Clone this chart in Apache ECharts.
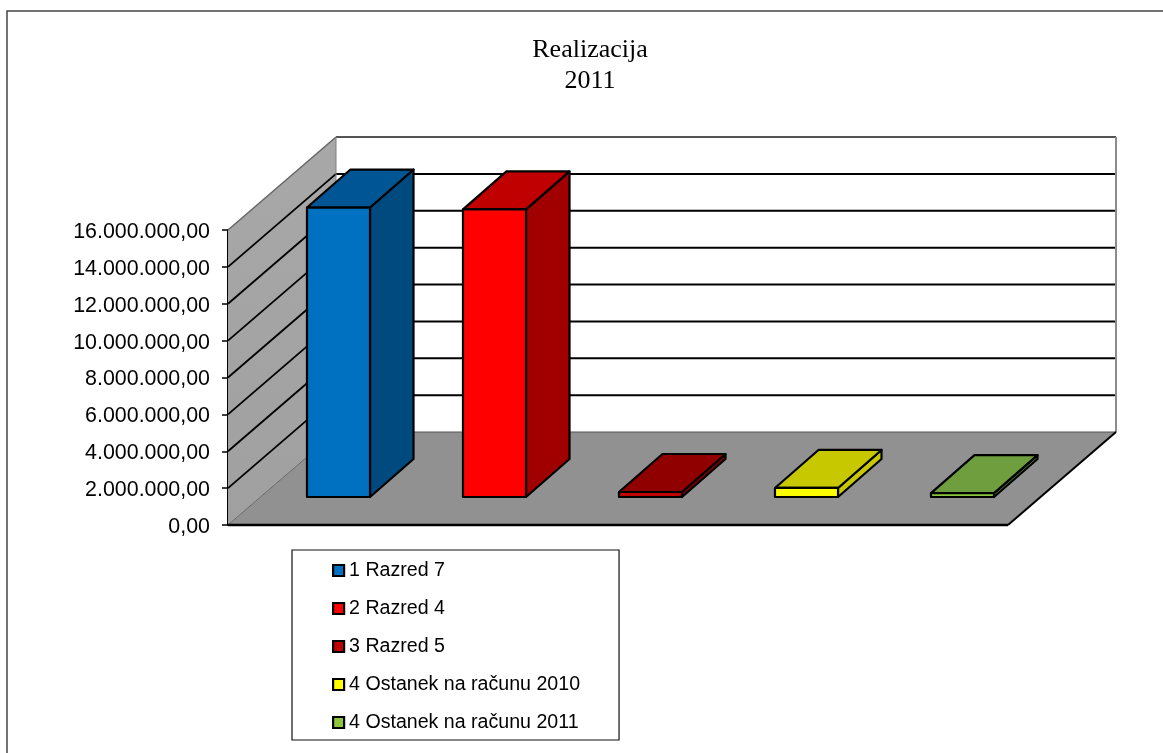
<!DOCTYPE html>
<html>
<head>
<meta charset="utf-8">
<style>
html, body { margin: 0; padding: 0; background: #fff; }
#main { width: 1163px; height: 753px; }
</style>
<script src="https://cdn.jsdelivr.net/npm/echarts@6/dist/echarts.min.js"></script>
</head>
<body>
<div id="main"></div>
<script>
var categories = ["1 Razred 7", "2 Razred 4", "3 Razred 5", "4 Ostanek na računu 2010", "4 Ostanek na računu 2011"];
var values = [15700000, 15600000, 270000, 490000, 210000];
var tickValues = [0, 2000000, 4000000, 6000000, 8000000, 10000000, 12000000, 14000000, 16000000];

var frontColors = ["#0070c0", "#ff0000", "#c00000", "#ffff00", "#8cc63f"];
var topColors = ["#005694", "#c00000", "#900000", "#c8c800", "#6f9e3f"];
var sideColors = ["#004a80", "#a00000", "#800000", "#c8c800", "#5f8f3a"];

// depth of the fake 3d floor, in px
var depthX = 108, depthY = -93;
// how far the bars stand from the front edge, and how deep they are
var barOffX = 32.5, barOffY = -28, barDepthX = 43.5, barDepthY = -38;

function formatMoney(v) {
    var s = String(v).replace(/\B(?=(\d{3})+$)/g, ".");
    return s + ",00";
}

function poly(points, fill, stroke, width) {
    return {
        type: "polygon",
        shape: { points: points },
        style: { fill: fill, stroke: stroke, lineWidth: width, lineJoin: "round" }
    };
}

function line(x1, y1, x2, y2, color, width) {
    return {
        type: "line",
        shape: { x1: x1, y1: y1, x2: x2, y2: y2 },
        style: { stroke: color, lineWidth: width }
    };
}

// walls and floor, drawn once
function renderFrame(params, api) {
    var p0 = api.coord([0, 0]);
    var band = api.size([1, 0])[0];
    var x0 = p0[0] - band / 2;
    var x1 = x0 + band * categories.length;
    var y0 = p0[1];
    var yTop = api.coord([0, 16000000])[1];
    var kids = [];
    kids.push(poly([[x0 + depthX, yTop + depthY], [x1 + depthX, yTop + depthY], [x1 + depthX, y0 + depthY], [x0 + depthX, y0 + depthY]], "#fff", null, 0));
    kids.push({
        type: "polygon",
        shape: { points: [[x0, y0], [x0, yTop], [x0 + depthX, yTop + depthY], [x0 + depthX, y0 + depthY]] },
        style: {
            fill: new echarts.graphic.LinearGradient(0, 0, 0, 1, [
                { offset: 0, color: "#a8a8a8" },
                { offset: 1, color: "#a0a0a0" }
            ])
        }
    });
    kids.push(poly([[x0, y0], [x1, y0], [x1 + depthX, y0 + depthY], [x0 + depthX, y0 + depthY]], "#919191", null, 0));
    tickValues.forEach(function(t) {
        if (t === 0 || t === 16000000) {
            return;
        }
        var y = api.coord([0, t])[1];
        kids.push(line(x0, y, x0 + depthX, y + depthY, "#000", 1.8));
        kids.push(line(x0 + depthX, y + depthY, x1 + depthX, y + depthY, "#000", 2));
    });
    // gray outline of the box
    kids.push(line(x0, yTop, x0 + depthX, yTop + depthY, "#666", 1.5));
    kids.push(line(x0 + depthX, yTop + depthY, x1 + depthX, yTop + depthY, "#555", 1.8));
    kids.push(line(x1 + depthX, yTop + depthY, x1 + depthX, y0 + depthY, "#8c8c8c", 2));
    kids.push(line(x0 + depthX, yTop + depthY, x0 + depthX, y0 + depthY, "#808080", 1));
    kids.push(line(x0, y0, x0 + depthX, y0 + depthY, "#666", 1));
    kids.push(line(x0 + depthX, y0 + depthY, x1 + depthX, y0 + depthY, "#555", 1.2));
    kids.push(line(x1, y0, x1 + depthX, y0 + depthY, "#000", 2));
    kids.push(line(x0, y0, x1, y0, "#000", 2.4));
    return { type: "group", children: kids };
}

function renderBar(params, api) {
    var i = api.value(0);
    var base = api.coord([i, 0]);
    var top = api.coord([i, api.value(1)]);
    var w = api.size([1, 0])[0] * 0.404;
    var l = base[0] + barOffX - w / 2;
    var r = l + w;
    var b = base[1] + barOffY;
    var t = top[1] + barOffY;
    return {
        type: "group",
        children: [
            poly([[r, b], [r + barDepthX, b + barDepthY], [r + barDepthX, t + barDepthY], [r, t]], sideColors[i], "#000", 2.2),
            poly([[l, t], [r, t], [r + barDepthX, t + barDepthY], [l + barDepthX, t + barDepthY]], topColors[i], "#000", 2.2),
            poly([[l, b], [r, b], [r, t], [l, t]], frontColors[i], "#000", 2.2)
        ]
    };
}

var series = [{
    type: "custom",
    silent: true,
    data: [[0, 0]],
    encode: { x: 0, y: 1 },
    renderItem: renderFrame,
    z: 1
}];
categories.forEach(function(name, i) {
    series.push({
        name: name,
        type: "custom",
        data: [[i, values[i]]],
        encode: { x: 0, y: 1 },
        itemStyle: { color: frontColors[i] },
        renderItem: renderBar,
        z: 2 + i
    });
});

var option = {
    animation: false,
    backgroundColor: "#fff",
    title: {
        text: "Realizacija\n2011",
        left: 585,
        top: 30,
        textAlign: "center",
        textStyle: {
            fontFamily: "Liberation Serif",
            fontSize: 26,
            fontWeight: "normal",
            color: "#000",
            lineHeight: 30.5
        }
    },
    grid: { left: 228, top: 230, width: 780, height: 295 },
    xAxis: {
        type: "category",
        data: categories,
        axisLine: { show: false },
        axisTick: { show: false },
        axisLabel: { show: false }
    },
    yAxis: {
        type: "value",
        min: 0,
        max: 16000000,
        interval: 2000000,
        axisLine: { show: true, lineStyle: { color: "#000", width: 2 } },
        axisTick: { show: true, length: 6, lineStyle: { color: "#000", width: 1.5 } },
        splitLine: { show: false },
        axisLabel: {
            margin: 18,
            fontFamily: "Liberation Sans",
            fontSize: 21.4,
            color: "#000",
            verticalAlign: "top",
            lineHeight: 4,
            formatter: formatMoney
        }
    },
    legend: {
        orient: "vertical",
        left: 292,
        top: 550,
        data: categories,
        selectedMode: false,
        backgroundColor: "#fff",
        borderColor: "#111",
        borderWidth: 1.2,
        padding: [9, 39, 6, 40],
        itemWidth: 11,
        itemHeight: 11,
        itemGap: 15,
        icon: "rect",
        itemStyle: { borderColor: "#000", borderWidth: 2.2 },
        textStyle: {
            fontFamily: "Liberation Sans",
            fontSize: 19.6,
            color: "#000",
            lineHeight: 23
        }
    },
    graphic: [{
        type: "rect",
        silent: true,
        z: -1,
        shape: { x: 7, y: 11, width: 1200, height: 800 },
        style: { fill: "none", stroke: "#444", lineWidth: 1.5 }
    }],
    series: series
};

var myChart = echarts.init(document.getElementById("main"));
myChart.setOption(option);
</script>
</body>
</html>
